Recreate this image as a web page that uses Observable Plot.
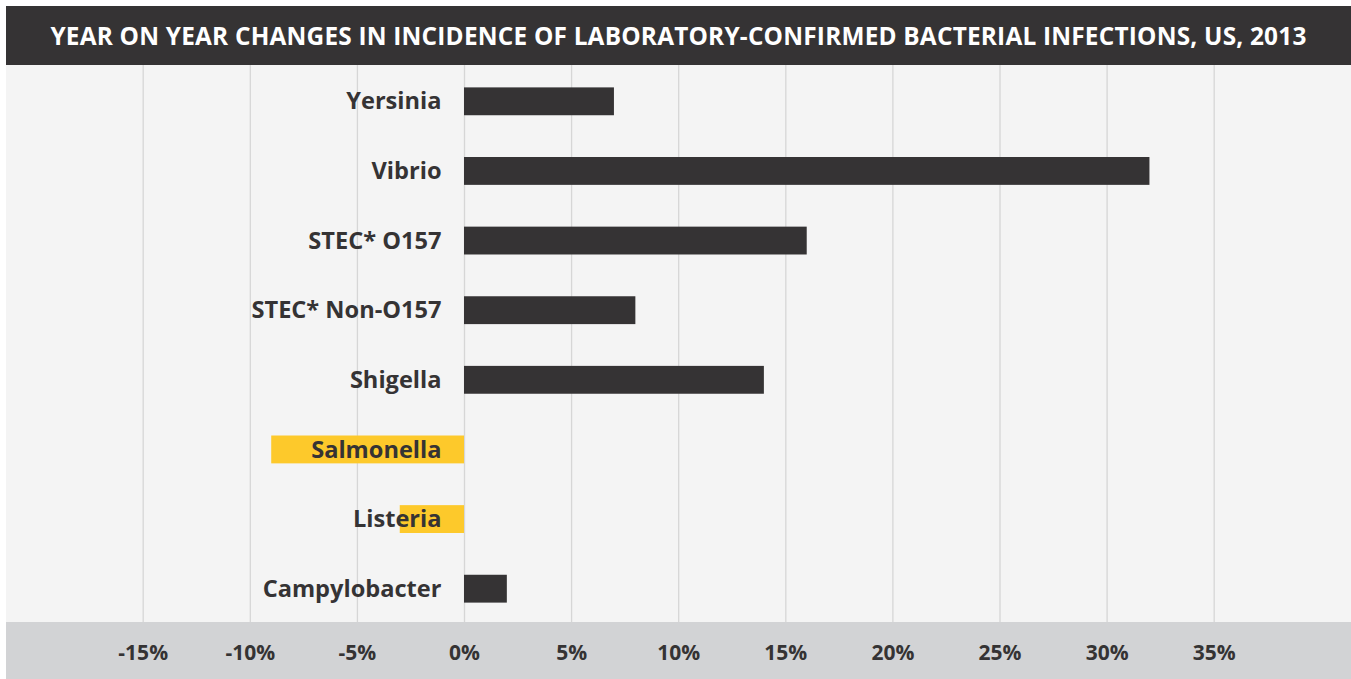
<!DOCTYPE html>
<html>
<head>
<meta charset="utf-8">
<script src="https://cdn.jsdelivr.net/npm/d3@7"></script>
<script src="https://cdn.jsdelivr.net/npm/@observablehq/plot@0.6"></script>
<style>
  html, body { margin: 0; padding: 0; background: #ffffff; }
  #wrap { position: absolute; left: 6px; top: 6px; width: 1345px; }
  #title {
    height: 59px; background: #353334; color: #ffffff;
    font-family: "Open Sans", sans-serif; font-weight: 700; font-size: 24.4px;
    display: flex; align-items: center; justify-content: center;
    letter-spacing: 0.2px; box-sizing: border-box;
  }
</style>
</head>
<body>
<div id="wrap">
  <div id="title">YEAR ON YEAR CHANGES IN INCIDENCE OF LABORATORY-CONFIRMED BACTERIAL INFECTIONS, US, 2013</div>
  <div id="chart"></div>
</div>
<script>
const categories = ["Yersinia", "Vibrio", "STEC* O157", "STEC* Non-O157", "Shigella", "Salmonella", "Listeria", "Campylobacter"];
const changes = [7, 32, 16, 8, 14, -9, -3, 2];
const xTicks = [-15, -10, -5, 0, 5, 10, 15, 20, 25, 30, 35];

const data = categories.map((name, i) => ({name, value: changes[i]}));
const dark = "#353334";
const yellow = "#fdc92b";

const chart = Plot.plot({
  width: 1345,
  height: 614,
  marginTop: 1.5,
  marginBottom: 55.5,
  marginLeft: 136.7,
  marginRight: 137.3,
  style: {
    background: "linear-gradient(to bottom, #f4f4f4 0px, #f4f4f4 557px, #d2d3d5 557px, #d2d3d5 614px)",
    fontFamily: "'Open Sans', sans-serif",
    color: dark
  },
  x: {domain: [-15, 35], ticks: xTicks, tickFormat: d => d + "%", label: null},
  y: {domain: categories, paddingInner: 0.6, paddingOuter: 0.3, round: false, axis: null},
  marks: [
    Plot.gridX(xTicks, {stroke: "#d6d6d6", strokeOpacity: 1, strokeWidth: 1.3, insetTop: -1.5, insetBottom: 1.5}),
    Plot.barX(data, {x: "value", y: "name", fill: d => d.value < 0 ? yellow : dark}),
    Plot.text(data, {x: () => 0, y: "name", text: "name", dx: -23, textAnchor: "end",
      fontWeight: 700, fontSize: 23.6, fill: dark}),
    Plot.axisX(xTicks, {tickSize: 0, tickPadding: 21.5, tickFormat: d => d + "%", label: null,
      fontWeight: 700, fontSize: 21, fill: dark})
  ]
});
document.getElementById("chart").appendChild(chart);
</script>
</body>
</html>
